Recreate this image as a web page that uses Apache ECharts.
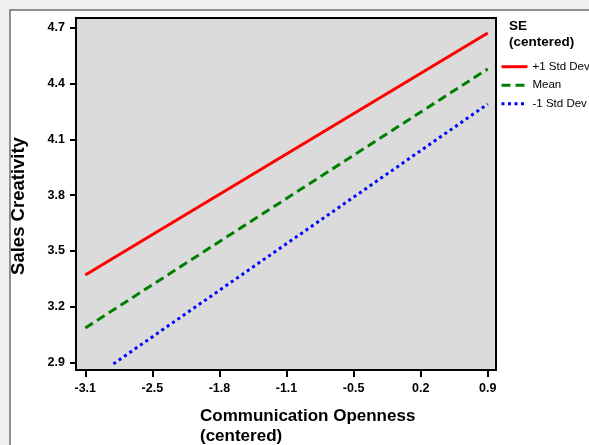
<!DOCTYPE html>
<html>
<head>
<meta charset="utf-8">
<script src="https://cdn.jsdelivr.net/npm/echarts@6/dist/echarts.min.js"></script>
<style>
  html, body { margin: 0; padding: 0; background: #f0f0f0; }
  #chart { width: 589px; height: 445px; }
</style>
</head>
<body>
<div id="chart"></div>
<script>
// simple slopes, SE at +1 sd / mean / -1 sd
const seriesNames = ['+1 Std Dev', 'Mean', '-1 Std Dev'];
const xPlus = [-3.1, 0.9];
const yPlus = [3.37, 4.672];
const xMean = [-3.1, 0.9];
const yMean = [3.085, 4.479];
const xMinus = [-2.82, 0.9];
const yMinus = [2.892, 4.29];

const xTicks = [-3.1, -2.4333, -1.7667, -1.1, -0.4333, 0.2333, 0.9];
const xTickLabels = ['-3.1', '-2.5', '-1.8', '-1.1', '-0.5', '0.2', '0.9'];
const yTicks = [2.9, 3.2, 3.5, 3.8, 4.1, 4.4, 4.7];

const pairs = (xs, ys) => xs.map((x, i) => [x, ys[i]]);

const chart = echarts.init(document.getElementById('chart'));
const font = 'Liberation Sans, Arial, sans-serif';

chart.setOption({
  animation: false,
  textStyle: { fontFamily: font },
  graphic: [
    {
      type: 'rect', z: -100, silent: true,
      shape: { x: 10, y: 10, width: 700, height: 600 },
      style: { fill: '#fff', stroke: '#6e6e6e', lineWidth: 1.5 }
    },
    {
      type: 'text', left: 200, top: 406,
      style: {
        text: 'Communication Openness\n(centered)',
        font: 'bold 17px ' + font, lineHeight: 20, fill: '#000'
      }
    },
    {
      type: 'text', x: 19, y: 206, rotation: Math.PI / 2,
      style: {
        text: 'Sales Creativity', font: 'bold 18.5px ' + font,
        align: 'center', verticalAlign: 'middle', fill: '#000'
      }
    }
  ],
  title: {
    text: 'SE\n(centered)', left: 509, top: 18.7, padding: 0,
    textStyle: { fontSize: 13.5, fontWeight: 'bold', lineHeight: 16, color: '#000' }
  },
  legend: {
    orient: 'vertical', left: 500, top: 60.7, padding: 0,
    itemWidth: 26, itemHeight: 14, itemGap: 6.5,
    data: seriesNames,
    itemStyle: { opacity: 0 },
    lineStyle: { width: 3 },
    textStyle: { fontSize: 11.5, color: '#000' }
  },
  grid: {
    left: 76, right: 93, top: 18, bottom: 75,
    show: true, backgroundColor: '#dbdbdb', borderColor: '#000', borderWidth: 2
  },
  xAxis: {
    type: 'value', min: -3.192, max: 0.982,
    axisLine: { show: false, onZero: false },
    splitLine: { show: false },
    axisTick: {
      customValues: xTicks, length: 7,
      lineStyle: { color: '#000', width: 2 }
    },
    axisLabel: {
      customValues: xTicks, margin: 12,
      fontSize: 12.5, fontWeight: 'bold', color: '#000',
      formatter: v => {
        let best = 0;
        xTicks.forEach((t, i) => { if (Math.abs(t - v) < Math.abs(xTicks[best] - v)) best = i; });
        return xTickLabels[best];
      }
    }
  },
  yAxis: {
    type: 'value', min: 2.859, max: 4.753,
    axisLine: { show: false, onZero: false },
    splitLine: { show: false },
    axisTick: {
      customValues: yTicks, length: 6,
      lineStyle: { color: '#000', width: 2 }
    },
    axisLabel: {
      customValues: yTicks, margin: 11,
      fontSize: 12.5, fontWeight: 'bold', color: '#000',
      formatter: v => v.toFixed(1)
    }
  },
  series: [
    {
      name: seriesNames[0], type: 'line', symbol: 'none',
      data: pairs(xPlus, yPlus),
      lineStyle: { color: '#ff0000', width: 3, cap: 'butt' },
      itemStyle: { color: '#ff0000' }
    },
    {
      name: seriesNames[1], type: 'line', symbol: 'none',
      data: pairs(xMean, yMean),
      lineStyle: { color: '#008000', width: 3, type: [9, 5], cap: 'butt' },
      itemStyle: { color: '#008000' }
    },
    {
      name: seriesNames[2], type: 'line', symbol: 'none',
      data: pairs(xMinus, yMinus),
      lineStyle: { color: '#0000ff', width: 3, type: [3, 3.5], cap: 'butt' },
      itemStyle: { color: '#0000ff' }
    }
  ]
});
</script>
</body>
</html>
